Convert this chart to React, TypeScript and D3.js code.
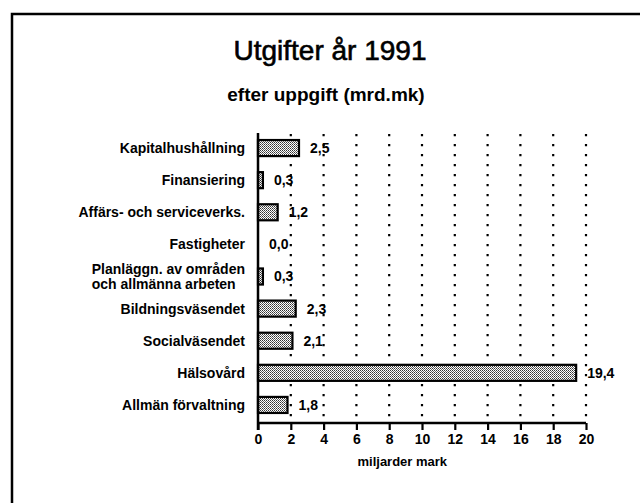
import React, { useRef, useEffect } from "react";
import * as d3 from "d3";

const categories = [
  "Kapitalhushållning",
  "Finansiering",
  "Affärs- och serviceverks.",
  "Fastigheter",
  "Planläggn. av områden\noch allmänna arbeten",
  "Bildningsväsendet",
  "Socialväsendet",
  "Hälsovård",
  "Allmän förvaltning",
];
const values = [2.5, 0.3, 1.2, 0.0, 0.3, 2.3, 2.1, 19.4, 1.8];
const xTicks = [0, 2, 4, 6, 8, 10, 12, 14, 16, 18, 20];

const title = "Utgifter år 1991";
const subtitle = "efter uppgift (mrd.mk)";
const xTitle = "miljarder mark";

export default function App() {
  const svgRef = useRef<SVGSVGElement>(null);

  useEffect(() => {
    const w = 640;
    const h = 503;
    const font = "'Liberation Sans', Arial, Helvetica, sans-serif";
    const svg = d3.select(svgRef.current);
    svg.selectAll("*").remove();
    svg.attr("width", w).attr("height", h).style("font-family", font);

    // stipple pattern for the bars
    const defs = svg.append("defs");
    const pat = defs
      .append("pattern")
      .attr("id", "dots")
      .attr("patternUnits", "userSpaceOnUse")
      .attr("width", 2)
      .attr("height", 2);
    pat.append("rect").attr("width", 2).attr("height", 2).attr("fill", "#fff");
    pat.append("rect").attr("width", 1).attr("height", 1).attr("fill", "#333");
    pat.append("rect").attr("x", 1).attr("y", 1).attr("width", 1).attr("height", 1).attr("fill", "#666");

    // frame
    svg
      .append("rect")
      .attr("x", 12)
      .attr("y", 14)
      .attr("width", 700)
      .attr("height", 600)
      .attr("fill", "none")
      .attr("stroke", "#000")
      .attr("stroke-width", 2.5);

    svg
      .append("text")
      .attr("x", 330)
      .attr("y", 60)
      .attr("text-anchor", "middle")
      .style("font-size", "28px")
      .style("stroke", "#000")
      .style("stroke-width", 0.6)
      .text(title);

    svg
      .append("text")
      .attr("x", 326)
      .attr("y", 101)
      .attr("text-anchor", "middle")
      .style("font-size", "19px")
      .style("font-weight", "bold")
      .text(subtitle);

    // scales
    const x = d3.scaleLinear().domain([0, 20]).range([258, 586]);
    const y = d3
      .scaleBand()
      .domain(categories)
      .range([132, 421])
      .paddingInner(0.5)
      .paddingOuter(0.25);

    // dotted gridlines
    svg
      .append("g")
      .selectAll("line")
      .data(xTicks.slice(1))
      .join("line")
      .attr("x1", (d) => x(d))
      .attr("x2", (d) => x(d))
      .attr("y1", 134)
      .attr("y2", 421)
      .attr("stroke", "#000")
      .attr("stroke-width", 2.2)
      .attr("stroke-dasharray", "2.2,7.8");

    // bars
    svg
      .append("g")
      .selectAll("rect")
      .data(values)
      .join("rect")
      .attr("x", x(0))
      .attr("y", (d, i) => y(categories[i])!)
      .attr("width", (d) => x(d) - x(0))
      .attr("height", y.bandwidth())
      .attr("fill", "url(#dots)")
      .attr("stroke", (d) => (d > 0 ? "#000" : "none"))
      .attr("stroke-width", 2.2);

    // value labels
    svg
      .append("g")
      .selectAll("text")
      .data(values)
      .join("text")
      .attr("x", (d) => x(d) + 11)
      .attr("y", (d, i) => y(categories[i])! + y.bandwidth() / 2)
      .attr("dy", "0.35em")
      .style("font-size", "14px")
      .style("font-weight", "bold")
      .text((d) => d3.format(".1f")(d).replace(".", ","));

    // category labels (two-line one is left aligned under its first line)
    const labels = svg.append("g");
    categories.forEach((c) => {
      const lines = c.split("\n");
      const cy = y(c)! + y.bandwidth() / 2;
      const lh = 15;
      const y0 = cy - ((lines.length - 1) * lh) / 2;
      const first = labels
        .append("text")
        .attr("x", 245)
        .attr("y", y0)
        .attr("dy", "0.35em")
        .attr("text-anchor", "end")
        .style("font-size", "14px")
        .style("font-weight", "bold")
        .text(lines[0]);
      if (lines.length > 1) {
        const bx = (first.node() as SVGTextElement).getBBox().x;
        lines.slice(1).forEach((l, j) => {
          labels
            .append("text")
            .attr("x", bx)
            .attr("y", y0 + (j + 1) * lh)
            .attr("dy", "0.35em")
            .style("font-size", "14px")
            .style("font-weight", "bold")
            .text(l);
        });
      }
    });

    // axes
    const xAxis = d3
      .axisBottom(x)
      .tickValues(xTicks)
      .tickSize(7)
      .tickPadding(4)
      .tickFormat((d) => String(d));
    const gx = svg.append("g").attr("transform", "translate(0,423)").call(xAxis);
    gx.select(".domain").attr("stroke-width", 2.5).attr("d", `M${x(0)},0H${x(20)}`);
    gx.selectAll(".tick line").attr("stroke-width", 2.2);
    gx.selectAll(".tick text")
      .style("font-size", "14px")
      .style("font-weight", "bold")
      .style("font-family", font);

    svg
      .append("line")
      .attr("x1", x(0))
      .attr("x2", x(0))
      .attr("y1", 133)
      .attr("y2", 430)
      .attr("stroke", "#000")
      .attr("stroke-width", 2.5);

    svg
      .append("text")
      .attr("x", x(0) + (x(20) - x(0)) * 0.44)
      .attr("y", 466)
      .attr("text-anchor", "middle")
      .style("font-size", "13px")
      .style("font-weight", "bold")
      .text(xTitle);
  }, []);

  return (
    <svg
      ref={svgRef}
      style={{ position: "absolute", left: 0, top: 0, display: "block" }}
    ></svg>
  );
}
